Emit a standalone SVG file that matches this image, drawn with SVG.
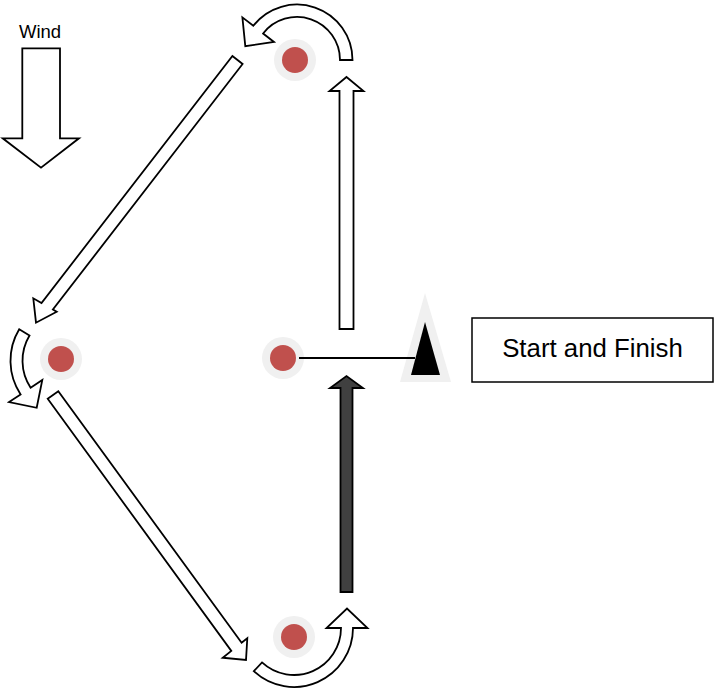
<svg xmlns="http://www.w3.org/2000/svg" width="714" height="690" viewBox="0 0 714 690">
<style>
.ar{fill:#ffffff;stroke:#000000;stroke-width:1.8;stroke-linejoin:miter}
.dk{fill:#404040;stroke:#000000;stroke-width:1.8}
.halo{fill:#f0f0f0}
.dot{fill:#c0504d}
.lbl{font-family:"Liberation Sans",Arial,sans-serif;fill:#000000}
</style>
<rect width="714" height="690" fill="#ffffff"/>
<g id="wind">
<text class="lbl" x="40" y="38" font-size="18.5" text-anchor="middle">Wind</text>
<polygon class="ar" points="22.3,48.3 60,48.3 60,138.3 79,138.3 41,167.7 2.7,138.3 22.3,138.3"/>
</g>
<g id="mark-top"><circle class="halo" cx="295" cy="60" r="21"/><circle class="dot" cx="295" cy="60" r="13"/></g>
<g id="mark-left"><circle class="halo" cx="61" cy="359" r="21"/><circle class="dot" cx="61" cy="359" r="13"/></g>
<g id="mark-mid"><circle class="halo" cx="283" cy="358" r="21"/><circle class="dot" cx="283" cy="358" r="13"/></g>
<g id="mark-bottom"><circle class="halo" cx="294" cy="637" r="21"/><circle class="dot" cx="294" cy="637" r="13"/></g>
<g id="start-buoy">
<polygon fill="#f0f0f0" points="425,293 451,382 400,382"/>
<polygon fill="#000000" points="425,322 440,375 411,375"/>
</g>
<g id="start-finish">
<rect x="472" y="318" width="241" height="64" fill="#ffffff" stroke="#000000" stroke-width="1.5"/>
<text class="lbl" x="592.5" y="357" font-size="25.8" text-anchor="middle">Start and Finish</text>
</g>
<g id="connectors">
<line x1="299" y1="358" x2="415" y2="358" stroke="#000000" stroke-width="1.8"/>
<polygon class="ar" points="339.5,329 353.5,329 353.5,91 363.5,91 346.5,77 329.5,91 339.5,91"/>
<polygon class="dk" points="340.5,592 352.5,592 352.5,388 363,388 346.5,376 330,388 340.5,388"/>
<polygon class="ar" points="232.4,56 242.6,64 52.9,309.5 56.7,311.7 36,322.7 33.3,298.3 41.5,303"/>
<polygon class="ar" points="47.7,398.8 58.3,391.2 241.6,642.8 247.3,638.3 246,660 222.7,657.7 231.3,650.9"/>
<path class="ar" d="M352.5 60 A55.5 55.5 0 0 0 253.3 25.8 L242.4 17.4 L245.3 46.2 L274 42 L263.1 33.5 A43 43 0 0 1 340 60 Z"/>
<path class="ar" d="M19.2 329.3 A61 61 0 0 0 20.6 394.4 L9 402.1 L36.7 407.8 L42.3 380 L30.6 387.7 A49 49 0 0 1 29.5 335.5 Z"/>
<path class="ar" d="M253.8 671.2 A59 59 0 0 0 353 628 L367.5 628 L347 608.5 L326.5 628 L341 628 A47 47 0 0 1 262 662.4 Z"/>
</g>
</svg>
